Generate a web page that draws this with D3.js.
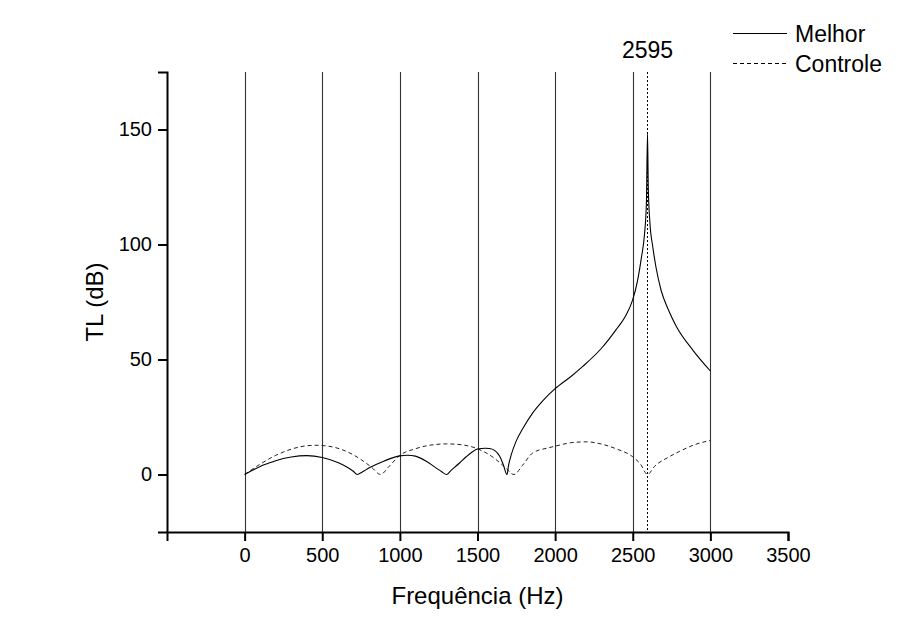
<!DOCTYPE html>
<html>
<head>
<meta charset="utf-8">
<script src="https://cdn.jsdelivr.net/npm/d3@7"></script>
<style>
  html, body { margin: 0; padding: 0; background: #fff; }
  svg { display: block; font-family: "Liberation Sans", Arial, sans-serif; }
</style>
</head>
<body>
<svg id="chart" width="905" height="634"></svg>
<script>
// values
const freqMelhor = [0, 50, 100, 150, 200, 300, 400, 500, 600, 650, 700, 725, 760, 800, 900, 1000, 1050, 1100, 1170, 1230, 1270, 1300, 1330, 1384, 1427, 1470, 1500, 1550, 1577, 1610, 1642, 1665, 1690, 1700, 1717, 1749, 1792, 1856, 1920, 2000, 2100, 2178, 2300, 2393, 2450, 2500, 2530, 2555, 2575, 2588, 2595, 2600, 2610, 2629, 2650, 2683, 2730, 2780, 2888, 3000];
const tlMelhor = [0, 1.8, 3.5, 4.8, 6, 7.6, 8.2, 7.4, 5.2, 3.6, 1.4, 0, 1.2, 2.8, 5.9, 8.1, 8.4, 8.0, 5.8, 3.0, 1.2, 0, 1.8, 5, 7.7, 10, 11.1, 11.4, 11.3, 10.5, 8, 4.5, 0, 4, 8.5, 14.5, 20, 26.8, 32, 37.3, 42.5, 47, 55, 63, 68.5, 76, 84, 94, 104, 118, 148, 125, 110, 99, 90, 80, 71.5, 64.5, 54, 45];

const freqControle = [0, 100, 200, 300, 400, 460, 550, 650, 750, 820, 875, 930, 1000, 1100, 1200, 1300, 1400, 1500, 1600, 1680, 1735, 1790, 1856, 1950, 2000, 2100, 2200, 2300, 2400, 2500, 2550, 2595, 2640, 2735, 2800, 2900, 3000];
const tlControle = [0, 4.5, 8.3, 11, 12.5, 12.7, 12.2, 10.2, 6.5, 3, 0, 3.5, 8.3, 11.2, 12.8, 13.3, 12.9, 11.2, 7.5, 3, 0, 4, 9.4, 11.5, 12.3, 13.8, 14.2, 13.2, 11, 7.7, 4.5, 0, 3.5, 7.7, 10, 13, 14.8];

const xTicks = [0, 500, 1000, 1500, 2000, 2500, 3000, 3500];
const xMinor = [-250, 250, 750, 1250, 1750, 2250, 2750, 3250];
const yTicks = [0, 50, 100, 150];
const yMinor = [25, 75, 125, 175];
const gridFreqs = [0, 500, 1000, 1500, 2000, 2500, 3000];
const markerFreq = 2595;

const svg = d3.select("#chart");

const x = d3.scaleLinear().domain([-500, 3500]).range([167, 788]);
const y = d3.scaleLinear().domain([-25, 175]).range([532, 72]);

// vertical grid lines
svg.append("g")
  .selectAll("line")
  .data(gridFreqs)
  .join("line")
  .attr("x1", d => Math.round(x(d)) + 0.5)
  .attr("x2", d => Math.round(x(d)) + 0.5)
  .attr("y1", y(175))
  .attr("y2", y(-25))
  .attr("stroke", "#333")
  .attr("stroke-width", 1.1);

// marker line at the resonance
svg.append("line")
  .attr("x1", Math.round(x(markerFreq)) + 0.5)
  .attr("x2", Math.round(x(markerFreq)) + 0.5)
  .attr("y1", y(175))
  .attr("y2", y(-25))
  .attr("stroke", "#000")
  .attr("stroke-width", 1)
  .attr("stroke-dasharray", "2,2");

svg.append("text")
  .attr("x", x(markerFreq))
  .attr("y", 58)
  .attr("text-anchor", "middle")
  .attr("font-size", 23)
  .text(markerFreq);

const line = d3.line()
  .x(d => x(d[0]))
  .y(d => y(d[1]))
  .curve(d3.curveMonotoneX);

svg.append("path")
  .datum(d3.zip(freqControle, tlControle))
  .attr("d", line)
  .attr("fill", "none")
  .attr("stroke", "#222")
  .attr("stroke-width", 1)
  .attr("stroke-dasharray", "4,3");

svg.append("path")
  .datum(d3.zip(freqMelhor, tlMelhor))
  .attr("d", line)
  .attr("fill", "none")
  .attr("stroke", "#000")
  .attr("stroke-width", 1.1);

// axes
const fmt = d3.format("d");
const xAxis = svg.append("g").attr("transform", `translate(0,${y(-25)})`);
xAxis.call(d3.axisBottom(x).tickValues(xMinor).tickSize(5).tickFormat(""));
xAxis.call(d3.axisBottom(x).tickValues(xTicks).tickSize(9).tickPadding(7).tickFormat(fmt));

const yAxis = svg.append("g").attr("transform", `translate(${x(-500)},0)`);
yAxis.call(d3.axisLeft(y).tickValues(yMinor).tickSize(5).tickFormat(""));
yAxis.call(d3.axisLeft(y).tickValues(yTicks).tickSize(9).tickPadding(6).tickFormat(fmt));

svg.selectAll(".domain").attr("stroke", "#000").attr("stroke-width", 2);
svg.selectAll(".tick line").attr("stroke", "#000").attr("stroke-width", 2);
svg.selectAll(".tick text")
  .attr("font-family", "'Liberation Sans', Arial, sans-serif")
  .attr("font-size", 20)
  .attr("fill", "#000");

// axis titles
svg.append("text")
  .attr("x", (x(-500) + x(3500)) / 2)
  .attr("y", 604)
  .attr("text-anchor", "middle")
  .attr("font-size", 24)
  .text("Frequência (Hz)");

svg.append("text")
  .attr("transform", `translate(103,${(y(-25) + y(175)) / 2}) rotate(-90)`)
  .attr("text-anchor", "middle")
  .attr("font-size", 24)
  .text("TL (dB)");

// legend
const legendItems = ["Melhor", "Controle"];
const legendDash = [null, "4,3"];
const legend = svg.append("g");
legendItems.forEach((name, i) => {
  const ly = 33 + i * 30;
  legend.append("line")
    .attr("x1", 733).attr("x2", 787)
    .attr("y1", ly + 0.5).attr("y2", ly + 0.5)
    .attr("stroke", "#000")
    .attr("stroke-width", 1)
    .attr("stroke-dasharray", legendDash[i]);
  legend.append("text")
    .attr("x", 795)
    .attr("y", ly + 9)
    .attr("font-size", 23)
    .text(name);
});
</script>
</body>
</html>
